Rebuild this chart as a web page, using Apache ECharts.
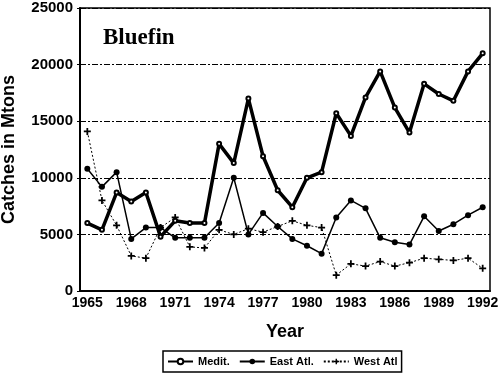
<!DOCTYPE html>
<html><head><meta charset="utf-8">
<script src="https://cdn.jsdelivr.net/npm/echarts@6/dist/echarts.min.js"></script>
<style>html,body{margin:0;padding:0;background:#fff}#c{width:500px;height:380px}</style>
</head><body><div id="c"></div>
<script>
const years = ['1965','1966','1967','1968','1969','1970','1971','1972','1973','1974','1975','1976','1977','1978','1979','1980','1981','1982','1983','1984','1985','1986','1987','1988','1989','1990','1991','1992'];
const medit = [6000,5400,8700,7900,8700,4800,6200,6000,6000,13000,11300,17000,11900,8900,7400,10000,10500,15700,13700,17100,19400,16200,14000,18300,17400,16800,19400,21000];
const eastAtl = [10800,9200,10500,4600,5600,5600,4700,4700,4700,6000,10000,5000,6900,5700,4600,4000,3300,6500,8000,7300,4700,4300,4100,6600,5300,5900,6700,7400];
const westAtl = [14100,8000,5800,3100,2900,5600,6500,3900,3800,5400,5000,5500,5200,5700,6200,5800,5600,1400,2400,2200,2600,2200,2500,2900,2800,2700,2900,2000];
const seriesNames = ['Medit.','East Atl.','West Atl'];
const yTicks = [0,5000,10000,15000,20000,25000];

const chart = echarts.init(document.getElementById('c'), null, {renderer:'canvas'});
const bold = {fontFamily:'Liberation Sans, Arial, sans-serif', fontWeight:'bold', color:'#000'};
const plus = 'path://M3,0h2v3h3v2h-3v3h-2v-3h-3v-2h3z';
chart.setOption({
  animation:false,
  backgroundColor:'#fff',
  grid:{left:80,right:10,top:8,bottom:89,show:true,borderColor:'#000',borderWidth:1.5,containLabel:false,outerBoundsMode:'none'},
  title:{text:'Bluefin',left:98,top:22,textStyle:{fontFamily:'Liberation Serif, Times New Roman, serif',fontWeight:'bold',fontSize:23,color:'#000'}},
  legend:{
    data:seriesNames, left:163, top:351, itemWidth:25, itemHeight:7, itemGap:9,
    borderColor:'#000', borderWidth:1.5, padding:[5,4], borderRadius:0,
    textStyle:Object.assign({fontSize:11},bold)
  },
  xAxis:{
    type:'category', data:years, boundaryGap:true,
    name:'Year', nameLocation:'middle', nameGap:32,
    nameTextStyle:Object.assign({fontSize:18},bold),
    axisLine:{lineStyle:{color:'#000',width:2}},
    axisTick:{alignWithLabel:true,interval:0,length:4,lineStyle:{color:'#000',width:1.5}},
    axisLabel:Object.assign({fontSize:14,margin:5,interval:(i)=>i%3===0},bold),
    splitLine:{show:false}
  },
  yAxis:{
    type:'value', min:0, max:25000, interval:5000,
    name:'Catches in Mtons', nameLocation:'middle', nameGap:62, nameRotate:90,
    nameTextStyle:Object.assign({fontSize:18},bold),
    axisLine:{show:true,lineStyle:{color:'#000',width:2}},
    axisTick:{show:true,length:3,lineStyle:{color:'#000'}},
    axisLabel:Object.assign({fontSize:15,margin:7,formatter:(v)=>yTicks.includes(v)?String(v):''},bold),
    splitLine:{show:true,lineStyle:{color:'#000',width:1,type:[6,2,2,2]}}
  },
  series:[
    {name:seriesNames[0],type:'line',data:medit,symbol:'emptyCircle',symbolSize:4,
     lineStyle:{color:'#000',width:3.5},itemStyle:{color:'#000',borderWidth:1.5},z:3},
    {name:seriesNames[1],type:'line',data:eastAtl,symbol:'circle',symbolSize:6,
     lineStyle:{color:'#000',width:1.5},itemStyle:{color:'#000'},z:2},
    {name:seriesNames[2],type:'line',data:westAtl,symbol:plus,symbolSize:7,
     lineStyle:{color:'#000',width:1,type:[2,2]},itemStyle:{color:'#000'},z:1}
  ]
});
</script></body></html>
